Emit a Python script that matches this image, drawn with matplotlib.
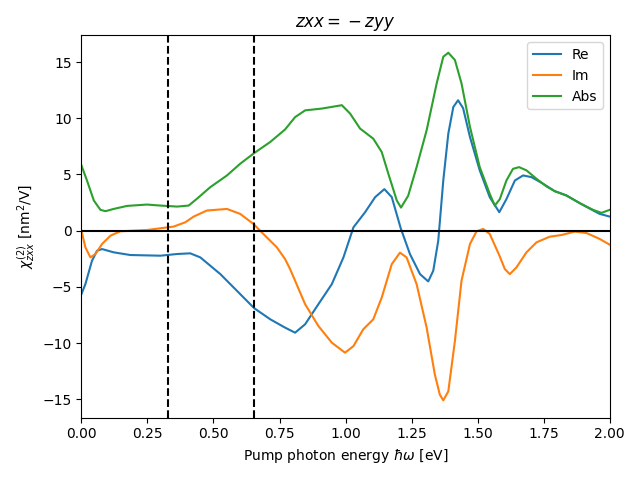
import matplotlib
matplotlib.use("Agg")
import matplotlib.pyplot as plt

re_x = [0.0, 0.015, 0.04, 0.059, 0.078, 0.122, 0.185, 0.299, 0.362, 0.412,
        0.45, 0.526, 0.589, 0.654, 0.715, 0.771, 0.809, 0.847, 0.897, 0.948,
        0.992, 1.03, 1.074, 1.112, 1.147, 1.175, 1.209, 1.244, 1.282, 1.313,
        1.332, 1.351, 1.37, 1.389, 1.408, 1.426, 1.445, 1.471, 1.508, 1.546,
        1.582, 1.609, 1.641, 1.672, 1.704, 1.748, 1.792, 1.836, 1.887, 1.937,
        1.962, 2.0]
re_y = [-5.65, -4.76, -2.68, -1.79, -1.64, -1.93, -2.17, -2.23, -2.08, -2.02,
        -2.38, -3.87, -5.36, -6.9, -7.89, -8.63, -9.08, -8.33, -6.55, -4.76,
        -2.38, 0.3, 1.64, 2.98, 3.69, 2.98, 0.2, -2.1, -3.87, -4.52,
        -3.57, -0.89, 4.46, 8.63, 11.0, 11.6, 10.9, 8.33, 5.36, 2.97,
        1.64, 2.8, 4.46, 4.91, 4.76, 4.17, 3.51, 3.13, 2.44, 1.8,
        1.49, 1.25]

im_x = [0.0, 0.015, 0.034, 0.053, 0.078, 0.11, 0.147, 0.25, 0.299, 0.349,
        0.393, 0.425, 0.475, 0.551, 0.601, 0.651, 0.689, 0.74, 0.771, 0.79,
        0.809, 0.847, 0.897, 0.948, 0.998, 1.03, 1.067, 1.105, 1.137, 1.175,
        1.206, 1.231, 1.269, 1.307, 1.338, 1.357, 1.37, 1.389, 1.414, 1.439,
        1.471, 1.496, 1.521, 1.546, 1.584, 1.603, 1.622, 1.647, 1.685, 1.723,
        1.773, 1.817, 1.868, 1.912, 1.962, 2.0]
im_y = [0.0, -1.49, -2.38, -2.08, -1.19, -0.45, -0.06, 0.06, 0.21, 0.36,
        0.74, 1.25, 1.79, 1.93, 1.49, 0.6, -0.3, -1.49, -2.53, -3.42,
        -4.46, -6.55, -8.48, -9.97, -10.86, -10.27, -8.78, -7.89, -5.95, -2.98,
        -1.96, -2.38, -4.76, -8.63, -12.8, -14.6, -15.1, -14.3, -9.82, -4.46,
        -1.19, -0.06, 0.15, -0.3, -2.3, -3.42, -3.87, -3.27, -1.93, -1.04,
        -0.54, -0.39, -0.09, -0.21, -0.74, -1.25]

abs_x = [0.0, 0.021, 0.047, 0.072, 0.091, 0.122, 0.173, 0.248, 0.299, 0.362,
         0.406, 0.437, 0.488, 0.551, 0.601, 0.654, 0.715, 0.771, 0.809, 0.847,
         0.91, 0.986, 1.017, 1.055, 1.105, 1.137, 1.162, 1.194, 1.21, 1.237,
         1.269, 1.307, 1.345, 1.37, 1.389, 1.414, 1.439, 1.471, 1.508, 1.546,
         1.565, 1.584, 1.609, 1.634, 1.657, 1.685, 1.723, 1.761, 1.792, 1.836,
         1.887, 1.937, 1.969, 2.0]
abs_y = [5.8, 4.46, 2.68, 1.85, 1.73, 1.93, 2.2, 2.32, 2.23, 2.14,
         2.23, 2.83, 3.87, 4.91, 5.95, 6.9, 7.89, 9.0, 10.1, 10.7,
         10.86, 11.16, 10.42, 9.08, 8.18, 6.99, 5.06, 2.68, 2.05, 3.1,
         5.65, 8.93, 13.1, 15.47, 15.83, 15.18, 13.1, 9.23, 5.65, 3.27,
         2.23, 2.8, 4.46, 5.5, 5.65, 5.36, 4.61, 3.93, 3.51, 3.13,
         2.44, 1.85, 1.58, 1.85]

gap_lines = [0.3275, 0.655]


def main() -> None:
    fig, ax = plt.subplots(figsize=(6.4, 4.8), dpi=100)
    ax.plot(re_x, re_y, label="Re")
    ax.plot(im_x, im_y, label="Im")
    ax.plot(abs_x, abs_y, label="Abs")
    ax.axhline(0, color="k")
    for xv in gap_lines:
        ax.axvline(xv, color="k", linestyle="--")
    ax.set_xlim(0, 2)
    ax.set_title(r"$zxx =\:-\:zyy$")
    ax.set_xlabel(r"Pump photon energy $\hbar\omega$ [eV]")
    ax.set_ylabel(r"$\chi^{(2)}_{zxx}$ [nm$^2$/V]")
    ax.legend(loc="upper right")
    fig.tight_layout()
    fig.savefig("out.png")


if __name__ == "__main__":
    main()
